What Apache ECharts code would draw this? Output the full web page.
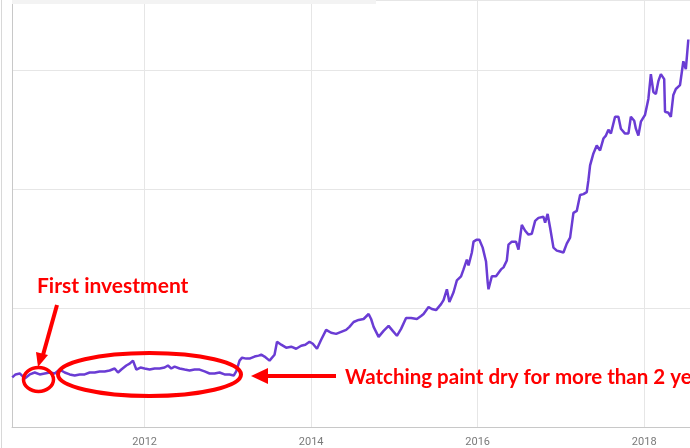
<!DOCTYPE html>
<html>
<head>
<meta charset="utf-8">
<script src="https://cdn.jsdelivr.net/npm/echarts@6/dist/echarts.min.js"></script>
<style>html,body{margin:0;padding:0;background:#fff;}#c{width:690px;height:448px;}</style>
</head>
<body>
<div id="c"></div>
<script>
// Decimal years of sampled points
var years = [2010.41,2010.45,2010.50,2010.56,2010.62,2010.68,2010.74,2010.80,2010.86,2010.92,2010.98,
2011.04,2011.10,2011.16,2011.22,2011.28,2011.34,2011.40,2011.46,2011.52,2011.58,2011.64,2011.68,2011.72,2011.78,2011.82,2011.86,2011.90,2011.95,
2012.00,2012.06,2012.12,2012.18,2012.24,2012.28,2012.32,2012.36,2012.42,2012.48,2012.54,2012.60,2012.66,2012.72,2012.78,2012.84,2012.90,2012.96,
2013.02,2013.07,2013.10,2013.14,2013.17,2013.22,2013.26,2013.32,2013.37,2013.40,2013.44,2013.50,2013.56,2013.59,2013.64,2013.70,2013.76,2013.82,2013.88,2013.93,2013.98,
2014.02,2014.07,2014.12,2014.18,2014.24,2014.30,2014.36,2014.42,2014.46,2014.51,2014.57,2014.63,2014.69,2014.72,2014.75,2014.81,2014.87,2014.93,2014.98,
2015.03,2015.08,2015.14,2015.20,2015.27,2015.32,2015.35,2015.41,2015.45,2015.50,2015.56,2015.59,2015.63,2015.66,2015.71,2015.75,2015.80,2015.83,2015.87,2015.89,2015.93,2015.95,2015.99,
2016.02,2016.06,2016.10,2016.12,2016.13,2016.17,2016.22,2016.28,2016.31,2016.35,2016.37,2016.41,2016.46,2016.49,2016.53,2016.57,2016.61,2016.65,2016.69,2016.73,2016.79,2016.81,2016.84,2016.87,2016.91,2016.95,2016.99,
2017.03,2017.07,2017.11,2017.15,2017.19,2017.23,2017.27,2017.31,2017.33,2017.35,2017.39,2017.43,2017.45,2017.47,2017.51,2017.54,2017.57,2017.60,2017.65,2017.69,2017.72,2017.77,2017.81,2017.84,2017.88,2017.90,2017.93,2017.96,
2018.01,2018.05,2018.08,2018.11,2018.14,2018.17,2018.20,2018.24,2018.25,2018.29,2018.32,2018.35,2018.38,2018.43,2018.47,2018.50,2018.53];

// Values (arbitrary price units)
var values = [41.7,44.2,45.0,40.8,44.2,45.8,44.2,45.0,45.8,45.0,48.3,
45.8,44.2,43.3,44.2,44.2,45.8,45.8,46.7,46.7,47.5,49.2,45.8,48.3,51.7,53.3,55.8,48.3,50.0,
49.2,48.3,49.2,49.2,50.0,51.7,49.2,50.8,49.2,48.3,47.5,48.3,48.3,46.7,45.0,45.0,45.8,44.2,
44.2,43.3,46.7,55.8,58.3,57.5,57.5,59.2,60.0,60.8,59.2,55.8,60.8,71.7,69.2,66.7,67.5,65.8,68.3,69.2,71.7,
70.0,65.8,73.3,81.7,79.2,78.3,80.0,81.7,84.2,88.3,90.0,90.8,95.0,90.8,84.2,75.8,80.8,85.0,80.8,
76.7,82.5,91.7,91.7,90.8,93.3,95.0,100.8,99.2,98.3,103.3,106.7,115.8,105.0,113.3,123.3,126.7,132.5,140.8,135.8,146.7,155.8,157.5,
157.5,150.8,139.2,121.7,115.8,126.7,126.7,132.5,134.2,140.0,153.3,155.8,155.8,149.2,170.0,165.0,161.7,162.5,173.3,175.8,176.7,171.7,179.2,167.5,150.8,148.3,147.5,
146.7,154.2,159.2,180.0,181.7,195.0,195.8,197.5,207.5,220.0,230.0,236.7,238.3,232.5,242.5,245.0,250.0,246.7,260.8,260.8,250.8,246.7,246.7,260.8,257.5,250.8,245.0,256.7,
262.5,275.8,296.7,281.7,280.0,290.8,296.7,292.5,265.0,264.2,260.8,279.2,284.2,287.5,307.5,300.8,325.8];

var xTickLabels = [2012, 2014, 2016, 2018];

var data = years.map(function (y, i) { return [y, values[i]]; });

var chart = echarts.init(document.getElementById('c'), null, {renderer: 'canvas'});
var red = '#ff0000';
chart.setOption({
  animation: false,
  backgroundColor: '#ffffff',
  grid: {left: 12, top: 0, width: 680, height: 431, containLabel: false},
  xAxis: {
    type: 'value',
    min: 2010.407,
    max: 2018.55,
    axisLine: {show: true, lineStyle: {color: '#c8c8c8', width: 1}},
    axisTick: {show: false, customValues: xTickLabels},
    axisLabel: {
      customValues: xTickLabels,
      formatter: function (v) { return String(Math.round(v)); },
      color: '#7a7a7a', fontFamily: 'Roboto', fontSize: 11, margin: 10
    },
    splitLine: {show: true, lineStyle: {color: '#e6e6e6', width: 1}}
  },
  yAxis: {
    type: 'value',
    min: 0,
    max: 359,
    interval: 100,
    axisLine: {show: true, lineStyle: {color: '#c8c8c8', width: 1}},
    axisTick: {show: false},
    axisLabel: {show: false},
    splitLine: {show: true, lineStyle: {color: '#e6e6e6', width: 1}}
  },
  series: [{
    type: 'line',
    data: data,
    showSymbol: false,
    lineStyle: {color: '#6a3cd4', width: 2.5},
    itemStyle: {color: '#6a3cd4'},
    z: 3
  }],
  graphic: [
    {type: 'rect', shape: {x: 12, y: 0, width: 364, height: 4}, style: {fill: '#f3f3f3'}, z: 1},
    {type: 'line', shape: {x1: 1.5, y1: 0, x2: 1.5, y2: 448}, style: {stroke: '#d8d8d8', lineWidth: 1}, z: 1},
    {type: 'text', style: {text: 'First investment', x: 37, y: 286, textVerticalAlign: 'middle', font: 'bold 21px Lato', fill: red}, z: 10},
    {type: 'line', shape: {x1: 57, y1: 305, x2: 43, y2: 355}, style: {stroke: red, lineWidth: 4}, z: 10},
    {type: 'polygon', shape: {points: [[38, 367], [36, 352], [48, 355]]}, style: {fill: red}, z: 10},
    {type: 'ellipse', shape: {cx: 38.5, cy: 379.5, rx: 15, ry: 12}, style: {stroke: red, fill: 'none', lineWidth: 3.5}, z: 10},
    {type: 'ellipse', shape: {cx: 149.5, cy: 374.5, rx: 91.5, ry: 21.5}, style: {stroke: red, fill: 'none', lineWidth: 4}, z: 10},
    {type: 'line', shape: {x1: 266, y1: 376, x2: 336, y2: 376}, style: {stroke: red, lineWidth: 4}, z: 10},
    {type: 'polygon', shape: {points: [[251, 376], [268, 368], [268, 384]]}, style: {fill: red}, z: 10},
    {type: 'text', style: {text: 'Watching paint dry for more than 2 years', x: 345, y: 377, textVerticalAlign: 'middle', font: 'bold 20.5px Lato', fill: red}, z: 10}
  ]
});
</script>
</body>
</html>
